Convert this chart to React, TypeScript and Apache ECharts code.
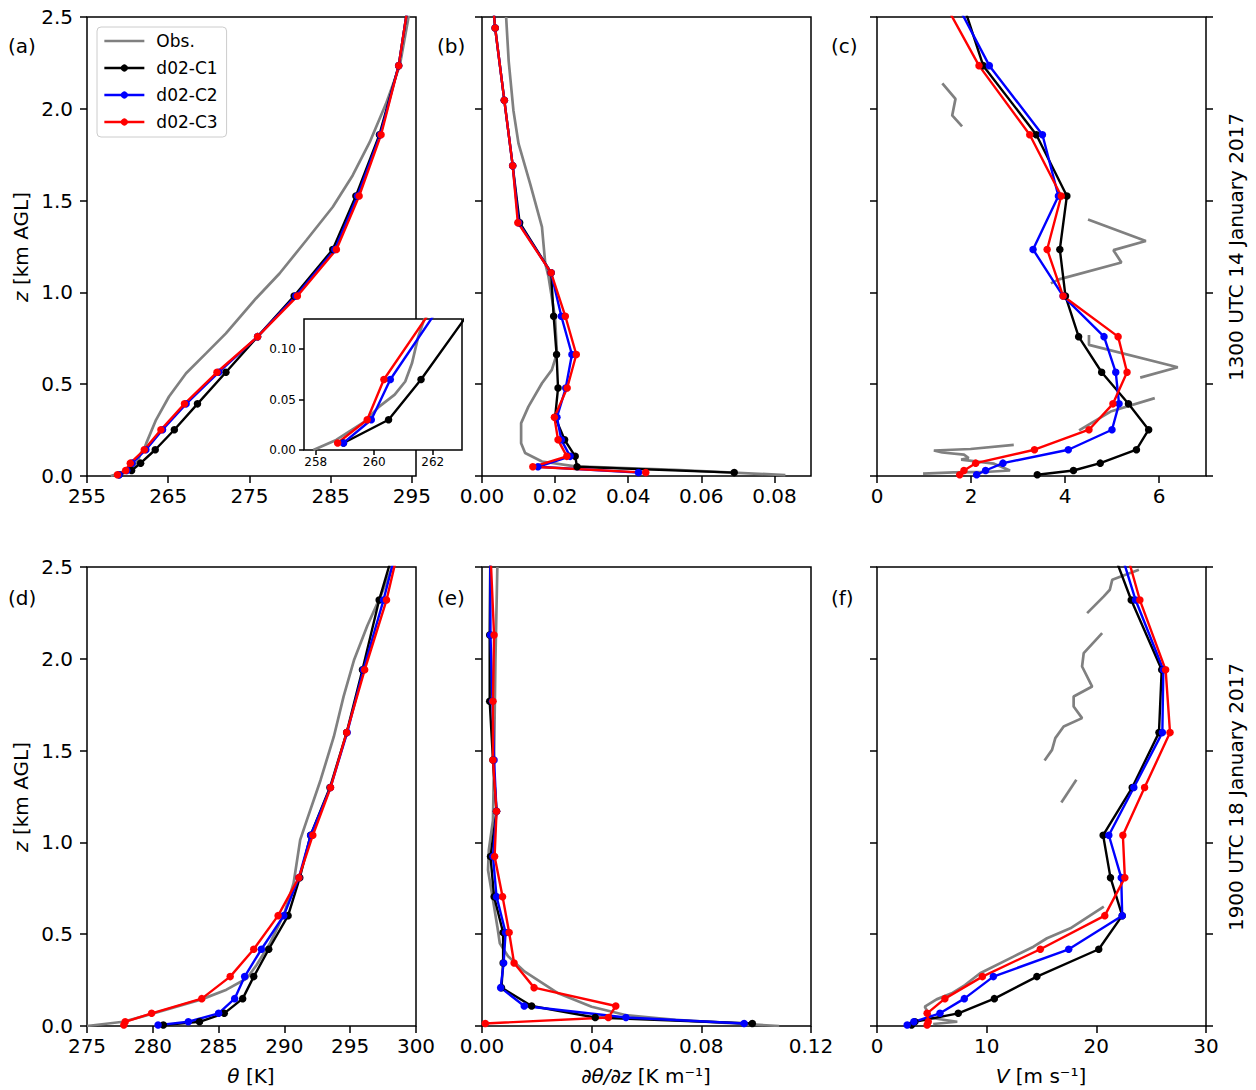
import { useEffect, useRef } from 'react';
import * as echarts from 'echarts';

const FONT = 'DejaVu Sans';

// ---------- heights (km AGL) ----------
const zLev1 = [0.007, 0.03, 0.07, 0.143, 0.252, 0.393, 0.565, 0.759, 0.98, 1.234, 1.525, 1.859, 2.235, 2.65];
const zMid1 = [0.0185, 0.05, 0.107, 0.197, 0.32, 0.479, 0.662, 0.87, 1.107, 1.38, 1.69, 2.047, 2.44, 2.9];
const zLev2 = [0.005, 0.023, 0.069, 0.149, 0.269, 0.418, 0.601, 0.808, 1.039, 1.299, 1.598, 1.94, 2.32, 2.76];
const zMid2 = [0.014, 0.046, 0.109, 0.209, 0.3435, 0.5095, 0.7045, 0.9235, 1.169, 1.4485, 1.769, 2.13, 2.54];

// ---------- panel (a): theta [K], 1300 UTC 14 Jan ----------
const thetaA_C1 = [258.95, 260.49, 261.6, 263.4, 265.75, 268.6, 272.1, 276.0, 280.5, 285.25, 288.1, 291.0, 293.37, 294.8];
const thetaA_C2 = [258.95, 259.9, 260.55, 262.25, 264.3, 267.2, 271.2, 276.0, 280.7, 285.5, 288.3, 291.1, 293.37, 294.8];
const thetaA_C3 = [258.75, 259.76, 260.33, 262.05, 264.1, 267.0, 271.0, 276.0, 280.9, 285.7, 288.5, 291.2, 293.37, 294.8];
const obsA_theta = [257.92, 258.7, 259.66, 260.17, 260.7, 261.06, 261.29, 261.5, 261.7, 262.0, 262.3, 263.5, 265.1, 267.2, 269.65, 272.1, 275.8, 278.7, 282.0, 285.25, 287.7, 289.8, 291.8, 293.5, 294.5, 294.8];
const obsA_z = [0, 0.01, 0.028, 0.043, 0.055, 0.068, 0.086, 0.112, 0.129, 0.145, 0.179, 0.306, 0.433, 0.56, 0.668, 0.777, 0.967, 1.103, 1.284, 1.465, 1.637, 1.818, 2.027, 2.235, 2.48, 2.56];

// ---------- panel (b): dtheta/dz [K m-1] ----------
const gradB_C1 = [0.069, 0.026, 0.0255, 0.0226, 0.02, 0.0208, 0.0204, 0.0196, 0.0189, 0.0103, 0.0084, 0.0061, 0.0036, 0.0015];
const gradB_C2 = [0.0428, 0.0153, 0.0241, 0.0217, 0.0205, 0.0229, 0.0246, 0.0217, 0.0189, 0.01, 0.0084, 0.0061, 0.0036, 0.0015];
const gradB_C3 = [0.0448, 0.0139, 0.0232, 0.0208, 0.0198, 0.0233, 0.0258, 0.0228, 0.0189, 0.0098, 0.0084, 0.0061, 0.0036, 0.0015];
const obsB_grad = [0.083, 0.0528, 0.0255, 0.0164, 0.0118, 0.0107, 0.0107, 0.0127, 0.0164, 0.0191, 0.0205, 0.02, 0.0182, 0.0173, 0.0164, 0.0132, 0.01, 0.0086, 0.0073, 0.0066];
const obsB_z = [0.005, 0.034, 0.052, 0.079, 0.125, 0.179, 0.288, 0.378, 0.505, 0.578, 0.668, 0.859, 1.085, 1.158, 1.357, 1.59, 1.81, 1.99, 2.26, 2.5];

// ---------- panel (c): V [m s-1] ----------
const windC_C1 = [3.41, 4.18, 4.75, 5.52, 5.78, 5.35, 4.78, 4.29, 4.01, 3.89, 4.04, 3.39, 2.26, 1.73];
const windC_C2 = [2.12, 2.31, 2.68, 4.07, 5.0, 5.15, 5.08, 4.83, 3.96, 3.32, 3.86, 3.52, 2.39, 1.54];
const windC_C3 = [1.76, 1.85, 2.1, 3.35, 4.51, 5.02, 5.32, 5.13, 3.96, 3.62, 3.92, 3.25, 2.17, 1.28];
const obsC_V = [
  [1.39, 1.67, 1.6, 1.81],
  [4.49, 5.72, 5.03, 5.2, 3.87, 3.7],
  [4.51, 4.51, 6.4, 5.6],
  [5.91, 4.97, 4.3],
  [2.91, 1.99, 1.21, 1.39, 1.85, 1.95, 1.79, 2.49, 2.83, 2.38, 1.63, 0.98],
];
const obsC_z = [
  [2.139, 2.054, 1.964, 1.904],
  [1.397, 1.28, 1.23, 1.163, 1.071, 1.049],
  [0.768, 0.714, 0.592, 0.536],
  [0.424, 0.351, 0.248],
  [0.17, 0.147, 0.139, 0.128, 0.116, 0.098, 0.089, 0.067, 0.03, 0.023, 0.02, 0.0125],
];

// ---------- panel (d): theta [K], 1900 UTC 18 Jan ----------
const thetaD_C1 = [280.8, 283.55, 285.43, 286.83, 287.67, 288.81, 290.28, 291.17, 291.99, 293.46, 294.73, 295.93, 297.2, 299.0];
const thetaD_C2 = [280.4, 282.7, 285.0, 286.22, 286.98, 288.25, 289.95, 291.1, 292.0, 293.5, 294.77, 296.0, 297.53, 299.1];
const thetaD_C3 = [277.8, 277.9, 279.91, 283.72, 285.88, 287.67, 289.52, 291.1, 292.16, 293.51, 294.73, 296.1, 297.76, 299.2];
const obsD_theta = [275.0, 277.75, 279.9, 283.7, 285.6, 287.16, 287.9, 288.9, 290.0, 290.7, 291.2, 291.7, 292.75, 293.76, 294.5, 295.3, 296.3, 297.3, 298.2];
const obsD_z = [0, 0.023, 0.065, 0.145, 0.198, 0.26, 0.334, 0.45, 0.614, 0.778, 1.014, 1.12, 1.34, 1.577, 1.795, 1.995, 2.18, 2.34, 2.5];

// ---------- panel (e): dtheta/dz ----------
const gradE_C1 = [0.0986, 0.0413, 0.0181, 0.0071, 0.0077, 0.0077, 0.0044, 0.0031, 0.0053, 0.004, 0.0028, 0.0028, 0.003];
const gradE_C2 = [0.0956, 0.0525, 0.0154, 0.0068, 0.0079, 0.0086, 0.0053, 0.004, 0.0053, 0.0044, 0.0038, 0.0031, 0.003];
const gradE_C3 = [0.0012, 0.0461, 0.0488, 0.019, 0.0117, 0.0099, 0.0075, 0.0046, 0.0053, 0.004, 0.004, 0.0044, 0.0032];
const obsE_grad = [0.1084, 0.0706, 0.0523, 0.04, 0.0278, 0.0156, 0.0095, 0.0065, 0.0056, 0.004, 0.0022, 0.0025, 0.004, 0.0044, 0.0049, 0.0056];
const obsE_z = [0, 0.033, 0.06, 0.105, 0.178, 0.296, 0.38, 0.45, 0.541, 0.687, 0.85, 0.959, 1.12, 1.45, 1.995, 2.5];

// ---------- panel (f): V [m s-1] ----------
const windF_C1 = [3.15, 3.45, 7.41, 10.7, 14.58, 20.22, 22.36, 21.29, 20.62, 23.27, 25.71, 25.96, 23.18, 20.4];
const windF_C2 = [2.75, 3.36, 5.74, 7.96, 10.61, 17.48, 22.36, 22.27, 21.14, 23.42, 26.02, 26.11, 23.58, 21.3];
const windF_C3 = [4.57, 4.67, 4.57, 6.19, 9.61, 14.89, 20.77, 22.6, 22.42, 24.4, 26.72, 26.32, 23.97, 21.9];
const obsF_V = [
  [23.88, 22.66, 21.45, 21.23, 20.68, 19.16],
  [20.53, 18.85, 18.7, 19.62, 17.93, 17.93, 18.7, 17.02, 16.26, 15.96, 15.28],
  [18.18, 16.81],
  [20.68, 17.63, 15.5, 14.27, 12.44, 9.4, 8.02, 6.81, 5.43, 4.36, 4.67, 5.12, 7.32, 5.12],
];
const obsF_z = [
  [2.485, 2.458, 2.43, 2.376, 2.34, 2.249],
  [2.14, 2.031, 1.958, 1.849, 1.795, 1.74, 1.677, 1.631, 1.568, 1.504, 1.446],
  [1.341, 1.217],
  [0.65, 0.532, 0.478, 0.432, 0.378, 0.287, 0.223, 0.178, 0.145, 0.105, 0.069, 0.042, 0.023, 0.011],
];

// ---------- ticks ----------
const zTicks = [0, 0.5, 1, 1.5, 2, 2.5];
const ticksA = [255, 265, 275, 285, 295];
const ticksB = [0, 0.02, 0.04, 0.06, 0.08];
const ticksC = [0, 2, 4, 6];
const ticksD = [275, 280, 285, 290, 295, 300];
const ticksE = [0, 0.04, 0.08, 0.12];
const ticksF = [0, 10, 20, 30];
const insetXTicks = [258, 260, 262];
const insetYTicks = [0, 0.05, 0.1];

const NAMES = ['Obs.', 'd02-C1', 'd02-C2', 'd02-C3'];
const COLORS = ['#808080', '#000000', '#0000ff', '#ff0000'];

function pairs(xs: number[], zs: number[]) {
  return xs.map((x, i) => [x, zs[i]]);
}

function axis(gridIndex: number, min: number, max: number, ticks: number[], o: any = {}) {
  const dec = o.dec ?? 0;
  return {
    type: 'value',
    gridIndex,
    min,
    max,
    position: o.position,
    z: o.z ?? 0,
    axisLine: { show: false, onZero: false },
    splitLine: { show: false },
    axisTick: {
      show: true,
      inside: false,
      length: o.tickLen ?? 7,
      lineStyle: { color: '#000', width: 1.5 },
      customValues: ticks,
    },
    axisLabel: {
      show: o.labels !== false,
      customValues: ticks,
      formatter: (v: number) => Number(v).toFixed(dec),
      fontSize: o.fontSize ?? 20,
      fontFamily: FONT,
      color: '#000',
      margin: o.margin ?? 10,
    },
  };
}

function modelSeries(idx: number, ax: number, xs: number[], zs: number[], z = 2) {
  return {
    type: 'line',
    name: NAMES[idx],
    xAxisIndex: ax,
    yAxisIndex: ax,
    data: pairs(xs, zs),
    symbol: 'circle',
    symbolSize: 7.5,
    showSymbol: true,
    clip: true,
    silent: true,
    z,
    lineStyle: { color: COLORS[idx], width: 2.4 },
    itemStyle: { color: COLORS[idx] },
  };
}

function obsSeries(ax: number, xs: number[], zs: number[], z = 2) {
  return {
    type: 'line',
    name: NAMES[0],
    xAxisIndex: ax,
    yAxisIndex: ax,
    data: pairs(xs, zs),
    symbol: 'none',
    showSymbol: false,
    clip: true,
    silent: true,
    z,
    lineStyle: { color: COLORS[0], width: 2.7 },
    itemStyle: { color: COLORS[0] },
  };
}

function panel(ax: number, levels: number[], c1: number[], c2: number[], c3: number[], z = 2) {
  return [
    modelSeries(1, ax, c1, levels, z),
    modelSeries(2, ax, c2, levels, z),
    modelSeries(3, ax, c3, levels, z),
  ];
}

function txt(text: string, x: number, y: number, o: any = {}) {
  return {
    type: 'text',
    x,
    y,
    rotation: o.rotation ?? 0,
    z: 20,
    style: {
      text,
      fontSize: 20,
      fontFamily: FONT,
      fill: '#000',
      align: o.align ?? 'center',
      verticalAlign: 'middle',
      textAlign: o.align ?? 'center',
      textVerticalAlign: 'middle',
      rich: {
        i: { fontStyle: 'italic', fontSize: 20, fontFamily: FONT, fill: '#000' },
      },
    },
  };
}

const GW = 329;
const GH = 459;
const COLS = [87, 482, 877];
const ROWS = [17, 567];

function buildOption() {
  const grids: any[] = [];
  for (const r of ROWS) for (const c of COLS) {
    grids.push({ left: c, top: r, width: GW, height: GH, show: true, borderColor: '#000', borderWidth: 1.5, backgroundColor: 'transparent', z: 0 });
  }
  grids.push({ left: 304, top: 319, width: 158, height: 131, show: true, borderColor: '#000', borderWidth: 1.5, backgroundColor: '#fff', z: 5 });

  const xAxes = [
    axis(0, 255, 295.5, ticksA),
    axis(1, 0, 0.09, ticksB, { dec: 2 }),
    axis(2, 0, 7, ticksC),
    axis(3, 275, 300, ticksD),
    axis(4, 0, 0.12, ticksE, { dec: 2 }),
    axis(5, 0, 30, ticksF),
    axis(6, 257.6, 263, insetXTicks, { fontSize: 12, tickLen: 5, margin: 6, z: 6 }),
  ];
  const yAxes = [
    axis(0, 0, 2.5, zTicks, { dec: 1, margin: 14 }),
    axis(1, 0, 2.5, zTicks, { labels: false }),
    axis(2, 0, 2.5, zTicks, { labels: false }),
    axis(3, 0, 2.5, zTicks, { dec: 1, margin: 14 }),
    axis(4, 0, 2.5, zTicks, { labels: false }),
    axis(5, 0, 2.5, zTicks, { labels: false }),
    axis(6, 0, 0.13, insetYTicks, { dec: 2, fontSize: 12, tickLen: 5, margin: 8, z: 6 }),
    axis(2, 0, 2.5, zTicks, { labels: false, position: 'right' }),
    axis(5, 0, 2.5, zTicks, { labels: false, position: 'right' }),
  ];

  const series: any[] = [
    obsSeries(0, obsA_theta, obsA_z),
    ...panel(0, zLev1, thetaA_C1, thetaA_C2, thetaA_C3),
    obsSeries(6, obsA_theta, obsA_z, 6),
    ...panel(6, zLev1, thetaA_C1, thetaA_C2, thetaA_C3, 6),
    obsSeries(1, obsB_grad, obsB_z),
    ...panel(1, zMid1, gradB_C1, gradB_C2, gradB_C3),
    ...obsC_V.map((v, i) => obsSeries(2, v, obsC_z[i])),
    ...panel(2, zLev1, windC_C1, windC_C2, windC_C3),
    obsSeries(3, obsD_theta, obsD_z),
    ...panel(3, zLev2, thetaD_C1, thetaD_C2, thetaD_C3),
    obsSeries(4, obsE_grad, obsE_z),
    ...panel(4, zMid2, gradE_C1, gradE_C2, gradE_C3),
    ...obsF_V.map((v, i) => obsSeries(5, v, obsF_z[i])),
    ...panel(5, zLev2, windF_C1, windF_C2, windF_C3),
  ];

  const graphic: any[] = [
    txt('(a)', 8, 46, { align: 'left' }),
    txt('(b)', 437, 46, { align: 'left' }),
    txt('(c)', 831, 46, { align: 'left' }),
    txt('(d)', 8, 598, { align: 'left' }),
    txt('(e)', 437, 598, { align: 'left' }),
    txt('(f)', 831, 598, { align: 'left' }),
    txt('{i|z} [km AGL]', 21, 247, { rotation: Math.PI / 2 }),
    txt('{i|z} [km AGL]', 21, 797, { rotation: Math.PI / 2 }),
    txt('1300 UTC 14 January 2017', 1236, 247, { rotation: Math.PI / 2 }),
    txt('1900 UTC 18 January 2017', 1236, 797, { rotation: Math.PI / 2 }),
    txt('{i|θ} [K]', 251, 1076),
    txt('{i|∂θ/∂z} [K m⁻¹]', 646, 1076),
    txt('{i|V} [m s⁻¹]', 1041, 1076),
  ];

  return {
    animation: false,
    backgroundColor: '#ffffff',
    textStyle: { fontFamily: FONT },
    grid: grids,
    xAxis: xAxes,
    yAxis: yAxes,
    legend: {
      show: true,
      selectedMode: false,
      orient: 'vertical',
      left: 97,
      top: 27,
      z: 10,
      itemWidth: 40,
      itemHeight: 9,
      itemGap: 9,
      padding: [5, 9, 6, 6],
      backgroundColor: '#ffffff',
      borderColor: '#cccccc',
      borderWidth: 1,
      borderRadius: 4,
      textStyle: { fontSize: 17, fontFamily: FONT, color: '#000', lineHeight: 18, padding: [0, 0, 0, 7] },
      data: [
        { name: 'Obs.', itemStyle: { opacity: 0, color: 'transparent', borderWidth: 0 }, lineStyle: { width: 2.7, color: COLORS[0] } },
        { name: 'd02-C1', lineStyle: { width: 2.4, color: COLORS[1] } },
        { name: 'd02-C2', lineStyle: { width: 2.4, color: COLORS[2] } },
        { name: 'd02-C3', lineStyle: { width: 2.4, color: COLORS[3] } },
      ],
    },
    series,
    graphic,
  };
}

export default function App() {
  const ref = useRef<HTMLDivElement>(null);
  useEffect(() => {
    if (!ref.current) return;
    const chart = echarts.init(ref.current, undefined, { renderer: 'svg' });
    chart.setOption(buildOption() as any);
    return () => chart.dispose();
  }, []);
  return (
    <div
      ref={ref}
      style={{ position: 'absolute', left: 0, top: 0, width: 1256, height: 1090, background: '#fff' }}
    />
  );
}
